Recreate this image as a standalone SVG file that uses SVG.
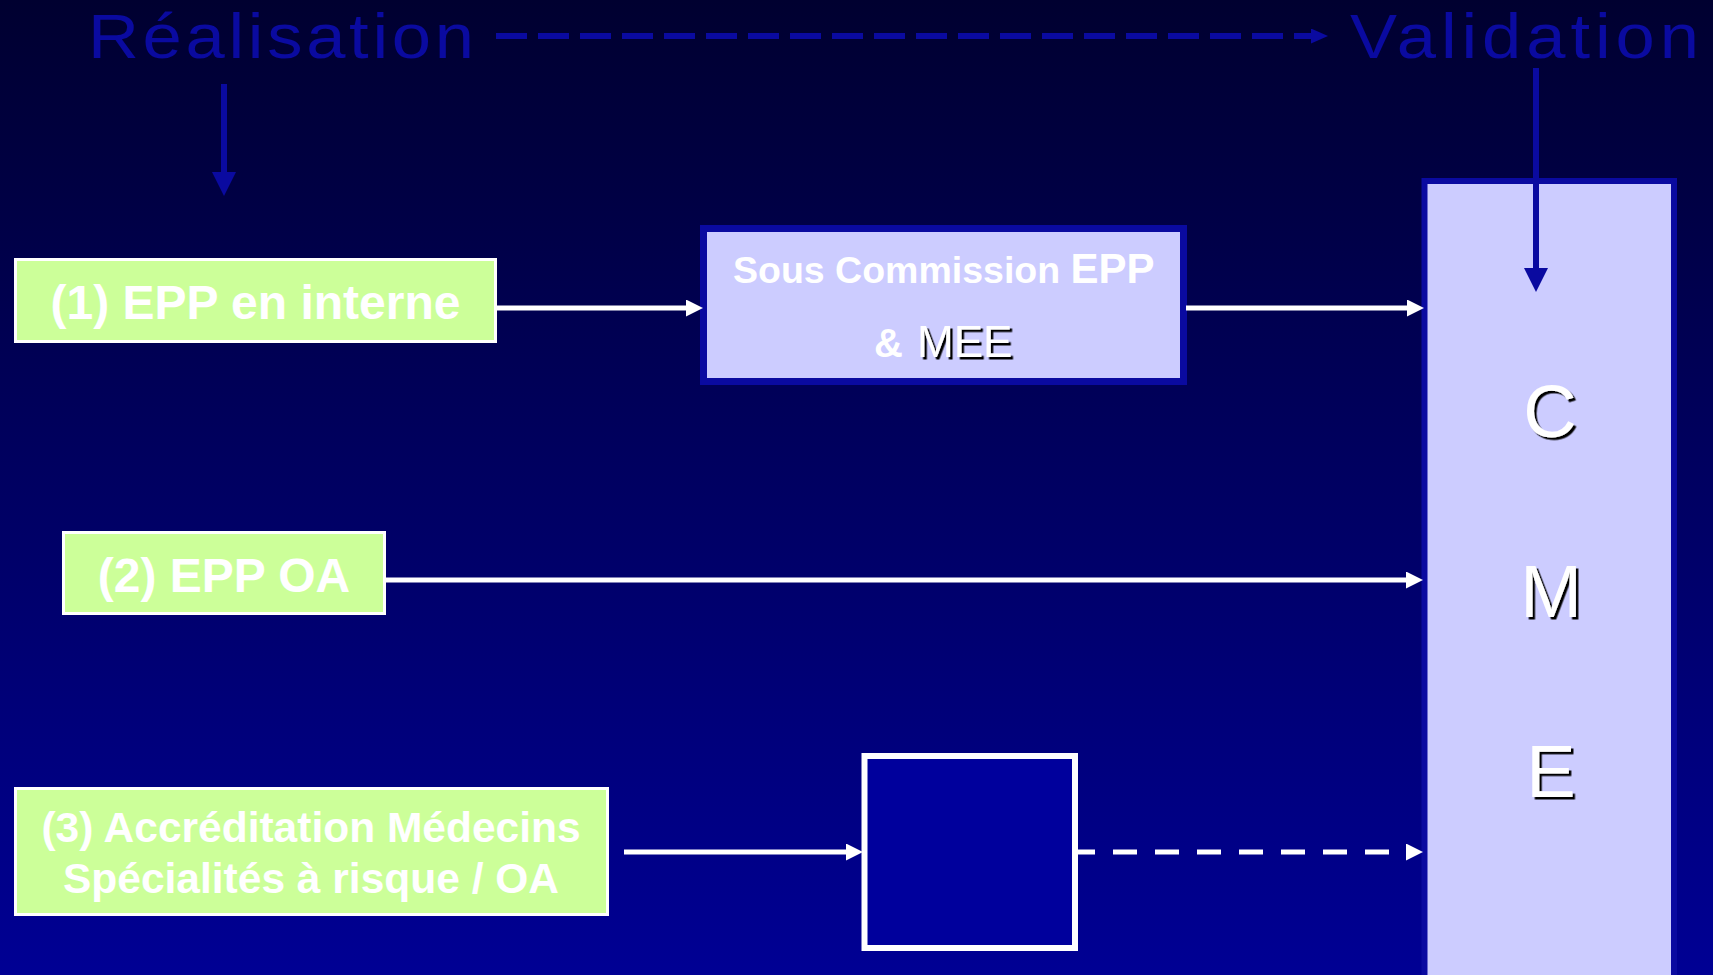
<svg xmlns="http://www.w3.org/2000/svg" width="1713" height="975" viewBox="0 0 1713 975">
  <defs>
    <linearGradient id="bg" x1="0" y1="0" x2="0" y2="1">
      <stop offset="0" stop-color="#000030"/>
      <stop offset="1" stop-color="#000094"/>
    </linearGradient>
    <marker id="headWhite" markerUnits="userSpaceOnUse" markerWidth="18" markerHeight="18" refX="0" refY="8.5" orient="auto">
      <path d="M0,0 L17,8.5 L0,17 Z" fill="#ffffff"/>
    </marker>
    <marker id="headBlue" markerUnits="userSpaceOnUse" markerWidth="25" markerHeight="25" refX="0" refY="12" orient="auto">
      <path d="M0,0 L24,12 L0,24 Z" fill="#0A0AA0"/>
    </marker>
    <marker id="headBlueSmall" markerUnits="userSpaceOnUse" markerWidth="18" markerHeight="16" refX="0" refY="7.5" orient="auto">
      <path d="M0,0 L17,7.5 L0,15 Z" fill="#0A0AA0"/>
    </marker>
    <filter id="shadow" x="-20%" y="-20%" width="140%" height="140%">
      <feDropShadow dx="2.5" dy="2.5" stdDeviation="0" flood-color="#000000" flood-opacity="1"/>
    </filter>
  </defs>
  <style>
    .title { font-family: "Liberation Sans", Arial, sans-serif; font-size: 63px; fill: #0A0AA0; }
    .green { fill: #CCFF99; stroke: #ffffff; stroke-width: 3; }
    .lilac { fill: #CCCCFF; stroke: #0A0AA0; }
    .bold { font-family: "Liberation Sans", Arial, sans-serif; font-weight: bold; fill: #ffffff; }
    .thin { font-family: "Liberation Sans", Arial, sans-serif; fill: #ffffff; filter: url(#shadow); }
    .wline { fill: none; stroke: #ffffff; stroke-width: 5; marker-end: url(#headWhite); }
    .bline { fill: none; stroke: #0A0AA0; stroke-width: 6; }
  </style>

  <rect x="0" y="0" width="1713" height="975" fill="url(#bg)"/>

  <!-- headings (slightly widened lettering) -->
  <g id="realisation">
    <text class="title" transform="translate(88,58) scale(1.12,1)" x="0" y="0" textLength="344.6" lengthAdjust="spacing">Réalisation</text>
  </g>
  <g id="validation">
    <text class="title" transform="translate(1350,58) scale(1.12,1)" x="0" y="0" textLength="311.6" lengthAdjust="spacing">Validation</text>
  </g>

  <!-- source boxes -->
  <g id="epp-interne">
    <rect class="green" x="15.5" y="259.5" width="480" height="82"/>
    <text class="bold" x="255.5" y="319" font-size="48" text-anchor="middle">(1) EPP en interne</text>
  </g>
  <g id="epp-oa">
    <rect class="green" x="63.5" y="532.5" width="321" height="81"/>
    <text class="bold" x="224" y="592" font-size="48" text-anchor="middle">(2) EPP OA</text>
  </g>
  <g id="accreditation">
    <rect class="green" x="15.5" y="788.5" width="592" height="126"/>
    <text class="bold" x="311" y="842" font-size="42.5" text-anchor="middle">(3) Accréditation Médecins</text>
    <text class="bold" x="311" y="893" font-size="42.5" text-anchor="middle">Spécialités à risque / OA</text>
  </g>

  <!-- sub-commission -->
  <g id="sous-commission">
    <rect class="lilac" x="703.5" y="228.5" width="480" height="153" stroke-width="7"/>
    <text class="bold" x="733" y="283"><tspan font-size="37.5">Sous Commission </tspan><tspan font-size="42">EPP</tspan></text>
    <text class="bold" x="874" y="357" font-size="40">&amp;</text>
    <text class="thin" x="917" y="357" font-size="44">MEE</text>
  </g>

  <!-- empty intermediate box -->
  <g id="empty-box">
    <rect x="864.5" y="756" width="210.5" height="192" fill="#00009C" stroke="#ffffff" stroke-width="6"/>
  </g>

  <!-- CME column -->
  <g id="cme">
    <rect class="lilac" x="1424.5" y="181" width="249.5" height="830" stroke-width="6"/>
    <text class="thin" x="1550" y="437" font-size="74" text-anchor="middle">C</text>
    <text class="thin" x="1551" y="617" font-size="74" text-anchor="middle">M</text>
    <text class="thin" x="1551" y="797" font-size="74" text-anchor="middle">E</text>
  </g>

  <!-- connectors -->
  <g id="connectors">
    <path class="bline" d="M496,36 H1311" stroke-dasharray="31 11" marker-end="url(#headBlueSmall)"/>
    <path class="bline" d="M224,84 V172" marker-end="url(#headBlue)"/>
    <path class="bline" d="M1536,68 V268" marker-end="url(#headBlue)"/>
    <path class="wline" d="M497,308 H686"/>
    <path class="wline" d="M1186,308 H1407"/>
    <path class="wline" d="M386,580 H1406"/>
    <path class="wline" d="M624,852 H846"/>
    <path class="wline" d="M1078,852 H1406" stroke-dasharray="24 18" stroke-dashoffset="7"/>
  </g>
</svg>
